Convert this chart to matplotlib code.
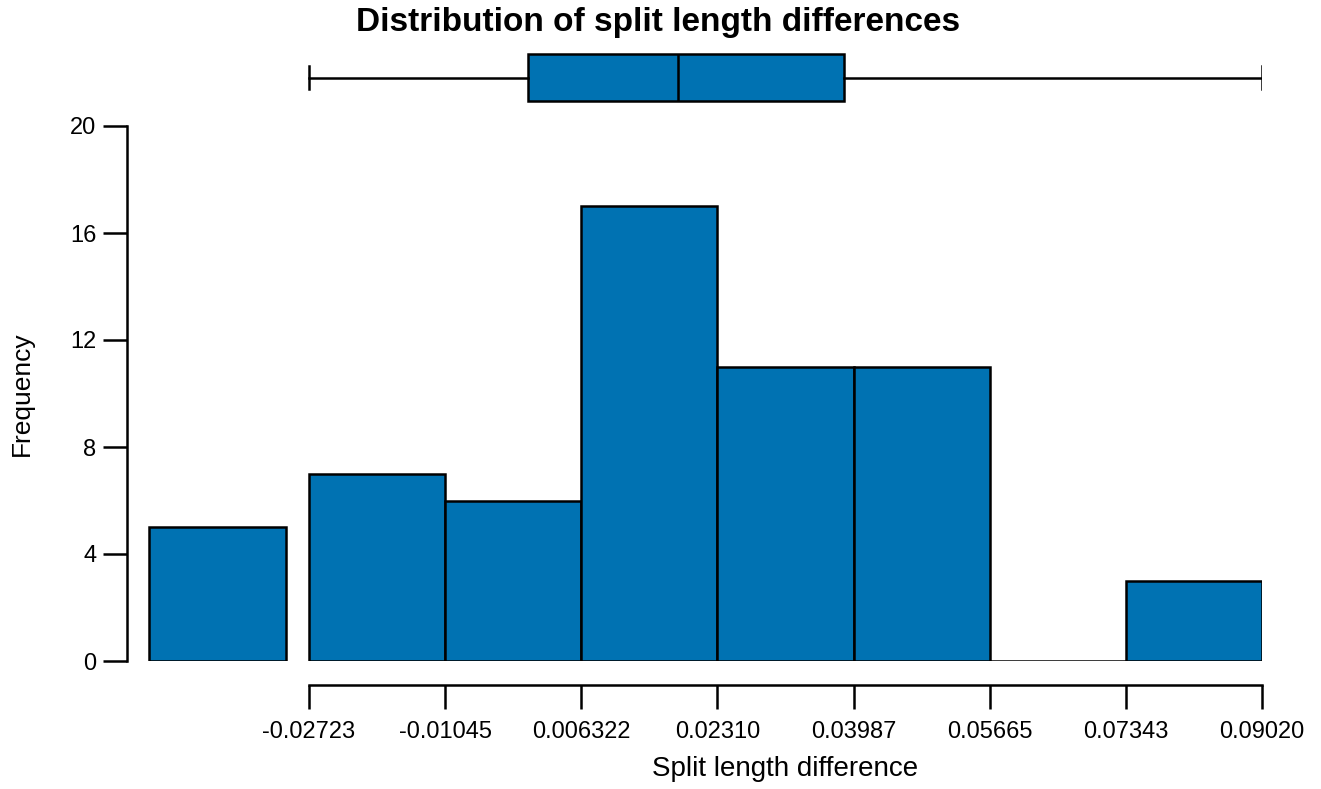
import matplotlib
matplotlib.use("Agg")
import matplotlib.pyplot as plt

# datos del histograma
bin_edges = [-0.02723, -0.01045, 0.006322, 0.02310, 0.03987, 0.05665, 0.07343, 0.09020]
counts = [7, 6, 17, 11, 11, 0, 3]
# barra aparte a la izquierda (valores por debajo del primer corte)
low_bin = [-0.04692, -0.03006]
low_count = 5
tick_labels = ["-0.02723", "-0.01045", "0.006322", "0.02310", "0.03987", "0.05665", "0.07343", "0.09020"]
y_ticks = [0, 4, 8, 12, 16, 20]

# resumen del boxplot
box_stats = {"whislo": -0.02723, "q1": -0.00028, "med": 0.01818, "q3": 0.03874, "whishi": 0.09020}

azul = "#0072B2"
W, H = 1321, 789
plt.rcParams["font.family"] = ["Liberation Sans", "DejaVu Sans"]

fig = plt.figure(figsize=(W / 100, H / 100), dpi=100)

def px_box(x0, y0, x1, y1):
    return [x0 / W, 1 - y1 / H, (x1 - x0) / W, (y1 - y0) / H]

xlim = (-0.04966, 0.09020)
lw = 1.8

# histograma
ax = fig.add_axes(px_box(127, 126, 1262, 661))
anchos = [bin_edges[i + 1] - bin_edges[i] for i in range(len(counts))]
ax.bar(bin_edges[:-1], counts, width=anchos, align="edge", color=azul,
       edgecolor="black", linewidth=lw)
ax.bar(low_bin[0], low_count, width=low_bin[1] - low_bin[0], align="edge",
       color=azul, edgecolor="black", linewidth=lw)
ax.set_xlim(*xlim)
ax.set_ylim(0, 20)
for s in ["top", "right"]:
    ax.spines[s].set_visible(False)
ax.spines["left"].set_bounds(0, 20)
ax.spines["bottom"].set_position(("outward", 17.3))
ax.spines["bottom"].set_bounds(bin_edges[0], bin_edges[-1])
for s in ["left", "bottom"]:
    ax.spines[s].set_linewidth(lw)
ax.set_yticks(y_ticks)
ax.set_xticks(bin_edges)
ax.set_xticklabels(tick_labels)
ax.tick_params(axis="both", length=17, width=lw, labelsize=17)
ax.tick_params(axis="x", pad=9)
ax.tick_params(axis="y", pad=5)
ax.set_xlabel("Split length difference", fontsize=20)
ax.set_ylabel("Frequency", fontsize=19)
# etiqueta x centrada sobre el eje dibujado, no sobre todo el panel
x_centro = (bin_edges[0] + bin_edges[-1]) / 2
ax.xaxis.set_label_coords((x_centro - xlim[0]) / (xlim[1] - xlim[0]), -0.178)
ax.yaxis.set_label_coords(-0.082, 0.5)

# boxplot arriba
axb = fig.add_axes(px_box(127, 45, 1262, 110))
axb.bxp([box_stats], positions=[0.5], widths=0.723, vert=False, showfliers=False,
        patch_artist=True, capwidths=0.36,
        boxprops=dict(facecolor=azul, edgecolor="black", linewidth=lw),
        medianprops=dict(color="black", linewidth=lw),
        whiskerprops=dict(color="black", linewidth=lw),
        capprops=dict(color="black", linewidth=lw))
axb.set_xlim(*xlim)
axb.set_ylim(0, 1)
axb.axis("off")

fig.text(658 / W, 1 - 22 / H, "Distribution of split length differences",
         ha="center", va="center", fontsize=24, fontweight="bold")

fig.savefig("out.png", dpi=100)
